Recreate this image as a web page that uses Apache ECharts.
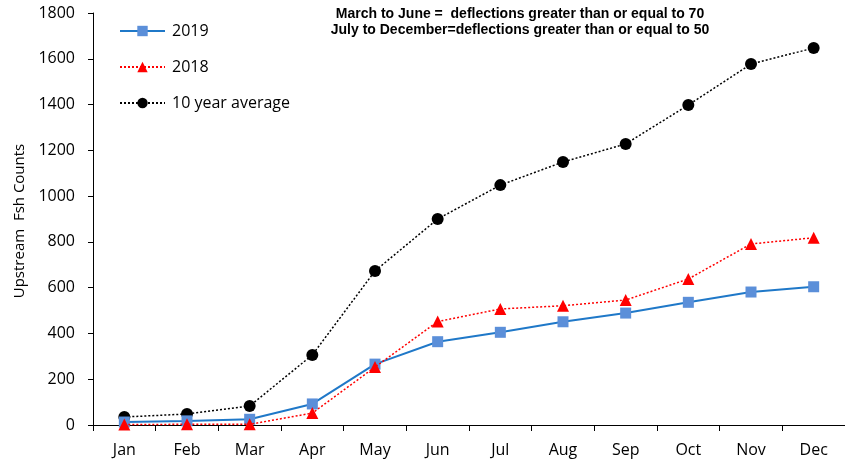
<!DOCTYPE html>
<html><head><meta charset="utf-8">
<script src="https://cdn.jsdelivr.net/npm/echarts@6/dist/echarts.min.js"></script>
<style>html,body{margin:0;padding:0;background:#fff}#c{width:845px;height:460px}</style>
</head><body><div id="c"></div>
<script>
const months = ['Jan','Feb','Mar','Apr','May','Jun','Jul','Aug','Sep','Oct','Nov','Dec'];
const counts2019 = [13, 18, 25, 92, 266, 364, 405, 451, 489, 536, 581, 604];
const counts2018 = [2, 3, 3, 52, 253, 452, 507, 521, 546, 638, 791, 818];
const avg10yr = [35, 48, 83, 306, 673, 900, 1048, 1149, 1228, 1398, 1577, 1647];
const yTicks = {min: 0, max: 1800, interval: 200};
const titleLines = ['March to June =  deflections greater than or equal to 70', 'July to December=deflections greater than or equal to 50'];

const chart = echarts.init(document.getElementById('c'));
const font = 'Open Sans, Noto Sans, sans-serif';
chart.setOption({
  animation: false,
  title: {
    text: titleLines.join('\n'),
    left: 515, top: 1, textAlign: 'center',
    textStyle: {fontFamily: 'Liberation Sans, Arial, sans-serif', fontWeight: 'bold', fontSize: 14, lineHeight: 16, color: '#000'}
  },
  legend: {
    orient: 'vertical', left: 114, top: 18, itemWidth: 45, itemHeight: 13, itemGap: 20,
    textStyle: {fontFamily: font, fontSize: 16, color: '#000', padding: [0,0,0,2]},
    data: ['2019', '2018', '10 year average']
  },
  grid: {left: 93, right: 0, top: 13, bottom: 35, containLabel: false},
  xAxis: {
    type: 'category', data: months, boundaryGap: true,
    axisLine: {lineStyle: {color: '#000', width: 1}},
    axisTick: {show: true, alignWithLabel: false, length: 6, lineStyle: {color: '#000'}},
    axisLabel: {fontFamily: font, fontSize: 16, color: '#000', margin: 17}
  },
  yAxis: {
    type: 'value', min: yTicks.min, max: yTicks.max, interval: yTicks.interval,
    name: 'Upstream  Fsh Counts', nameLocation: 'middle', nameGap: 66,
    nameTextStyle: {fontFamily: font, fontSize: 15, color: '#000', padding: [0, 4, 0, 0]},
    axisLine: {show: true, lineStyle: {color: '#000'}},
    axisTick: {show: true, length: 5, lineStyle: {color: '#000'}},
    splitLine: {show: false},
    axisLabel: {fontFamily: font, fontSize: 16, color: '#000', margin: 18, formatter: v => String(v)}
  },
  series: [
    {name: '2019', type: 'line', data: counts2019, symbol: 'rect', symbolSize: 11,
     lineStyle: {color: '#1f78c8', width: 2, type: 'solid'},
     itemStyle: {color: '#5b8fd9'}, z: 3},
    {name: '2018', type: 'line', data: counts2018, symbol: 'triangle', symbolSize: 12,
     lineStyle: {color: '#ff0000', width: 1.5, type: [2, 2]},
     itemStyle: {color: '#ff0000'}, z: 4},
    {name: '10 year average', type: 'line', data: avg10yr, symbol: 'circle', symbolSize: 12,
     lineStyle: {color: '#000', width: 1.5, type: [2, 2]},
     itemStyle: {color: '#000'}, z: 2}
  ]
});
</script></body></html>
